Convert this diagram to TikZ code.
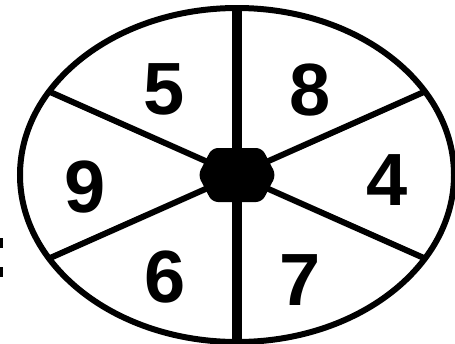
\documentclass[tikz,border=0pt]{standalone}
\usepackage{fontspec}
\setmainfont{Liberation Sans}
\usetikzlibrary{positioning, calc}

\begin{document}
\begin{tikzpicture}[
  x=1pt, y=-1pt,
  rim/.style={draw, line width=6pt},
  spoke/.style={line width=6pt},
  axis/.style={line width=10pt},
  digit/.style={font=\fontsize{74}{74}\selectfont\bfseries, inner sep=0pt}
]
  \useasboundingbox (0,0) rectangle (455,343);

  % Wheel
  \coordinate (C) at (237,175);
  \coordinate (top) at ($(C)+(0,-167)$);
  \coordinate (bot) at ($(C)+(0,167)$);
  \coordinate (ul) at ($(C)+(-188,-83.5)$);
  \coordinate (ur) at ($(C)+(188,-83.5)$);
  \coordinate (ll) at ($(C)+(-188,83.5)$);
  \coordinate (lr) at ($(C)+(188,83.5)$);
  \draw[rim] (C) ellipse [x radius=217, y radius=167];

  % Spokes
  \draw[axis] (top) -- (bot);
  \draw[spoke] (C) -- (ul);
  \draw[spoke] (C) -- (ur);
  \draw[spoke] (C) -- (ll);
  \draw[spoke] (C) -- (lr);

  % Hub
  \fill[rounded corners=6pt] ($(C)+(-39,0)$) -- ++(14,-27) -- ++(50,0) -- ++(14,27)
    -- ++(-14,27) -- ++(-50,0) -- cycle;

  % Numbers
  \node (n5) [digit] at (164,89)  {5};
  \node (n8) [digit] at (310,90)  {8};
  \node (n9) [digit] at (85,187)  {9};
  \node (n4) [digit] at (387,180) {4};
  \node (n6) [digit] at (165,277) {6};
  \node (n7) [digit] at (300,280) {7};

  % cut-off mark at the left edge
  \fill (0,238) rectangle (3,248);
  \fill (0,267) rectangle (3,277);

\end{tikzpicture}
\end{document}
